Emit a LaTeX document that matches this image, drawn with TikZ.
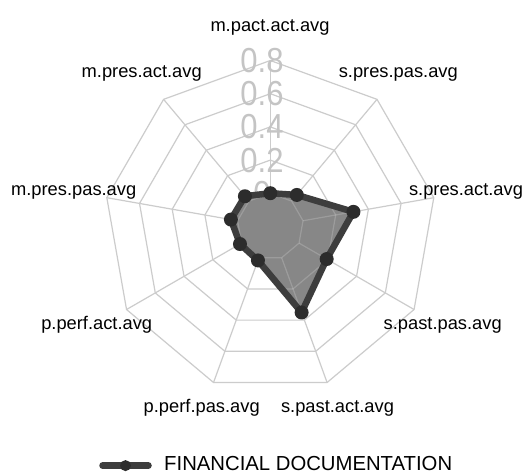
\documentclass[tikz,border=0pt]{standalone}
\usepackage{fontspec}
\setmainfont{Liberation Sans}
\definecolor{gridc}{HTML}{CCCCCC}
\definecolor{tickc}{HTML}{C4C4C4}
\definecolor{fillc}{HTML}{878787}
\definecolor{linec}{HTML}{3D3D3D}
\definecolor{dotc}{HTML}{2C2C2C}
\tikzset{
  gridline/.style={draw=gridc, line width=1.2pt},
  gridover/.style={draw=white, draw opacity=0.18, line width=1.2pt},
  ticklab/.style={text=tickc, inner sep=0pt, yscale=1.12, font=\fontsize{31}{31}\selectfont},
  axlab/.style={inner sep=0pt, anchor=base, font=\fontsize{18.3}{20}\selectfont},
  datafill/.style={fill=fillc},
  databorder/.style={draw=linec, line width=6.5pt, line join=round},
  datadot/.style={fill=dotc},
  legline/.style={draw=linec, line width=6.7pt, line cap=round},
  legtext/.style={inner sep=0pt, anchor=base west, font=\fontsize{20.3}{22}\selectfont},
}
\begin{document}
\begin{tikzpicture}[x=1pt,y=1pt]
\useasboundingbox (0,0) rectangle (526,-475);
\fill[white] (0,0) rectangle (526,-475);
\begin{scope}[shift={(270.3,-226.5)}]
  % grid rings
  \foreach \j in {1,...,5}
    \draw[gridline] (90:{\j*33.2}) \foreach \k in {1,...,8}{ -- ({90-40*\k}:{\j*33.2})} -- cycle;
  % axes
  \foreach \k in {0,...,8}
    \draw[gridline] ({90-40*\k}:33.2) -- ({90-40*\k}:166);
  % tick labels
  \foreach \j/\t in {1/0,2/0.2,3/0.4,4/0.6,5/0.8}
    \node[ticklab] (t\j) at (-8.3,{\j*33.2}) {\t};
  % data points
  \foreach \k/\r in {0/33.3,1/41.2,2/84.4,3/65.1,4/91.5,5/36.1,6/35,7/40,8/39.5}
    \coordinate (p\k) at ({90-40*\k}:\r);
  \fill[datafill] (p0) -- (p1) -- (p2) -- (p3) -- (p4) -- (p5) -- (p6) -- (p7) -- (p8) -- cycle;
  % grid seen through the fill
  \begin{scope}
    \clip (p0) -- (p1) -- (p2) -- (p3) -- (p4) -- (p5) -- (p6) -- (p7) -- (p8) -- cycle;
    \foreach \j in {1,...,5}
      \draw[gridover] (90:{\j*33.2}) \foreach \k in {1,...,8}{ -- ({90-40*\k}:{\j*33.2})} -- cycle;
    \foreach \k in {0,...,8}
      \draw[gridover] ({90-40*\k}:33.2) -- ({90-40*\k}:166);
  \end{scope}
  \draw[databorder] (p0) -- (p1) -- (p2) -- (p3) -- (p4) -- (p5) -- (p6) -- (p7) -- (p8) -- cycle;
  \foreach \k in {0,...,8}
    \fill[datadot] (p\k) circle (7);
\end{scope}
% axis labels
\node[axlab] (l0) at (270,-31) {m.pact.act.avg};
\node[axlab] (l1) at (398.3,-77.7) {s.pres.pas.avg};
\node[axlab] (l2) at (466,-195) {s.pres.act.avg};
\node[axlab] (l3) at (442.7,-329.3) {s.past.pas.avg};
\node[axlab] (l4) at (337.5,-412.7) {s.past.act.avg};
\node[axlab] (l5) at (201.7,-412.7) {p.perf.pas.avg};
\node[axlab] (l6) at (96.7,-329.3) {p.perf.act.avg};
\node[axlab] (l7) at (73.7,-195) {m.pres.pas.avg};
\node[axlab] (l8) at (141.7,-77.7) {m.pres.act.avg};
% legend
\coordinate (la) at (102.6,-465.6);
\coordinate (lb) at (148.4,-465.6);
\draw[legline] (la) -- (lb);
\fill[datadot] (125.5,-465.6) circle (5.5);
\node[legtext] (lt) at (164,-470.5) {FINANCIAL DOCUMENTATION};
\end{tikzpicture}
\end{document}
